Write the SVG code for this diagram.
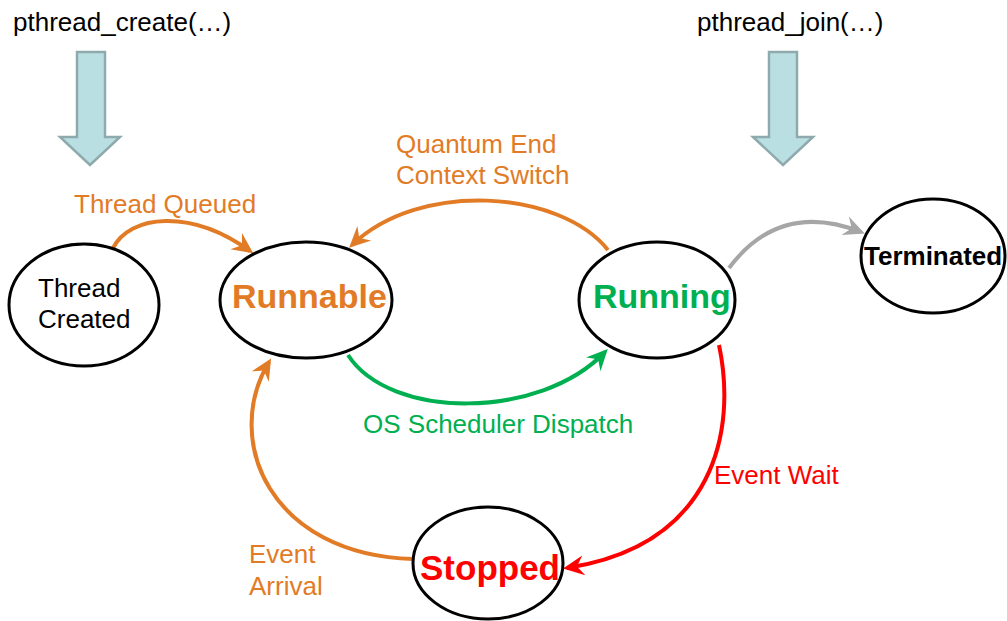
<svg xmlns="http://www.w3.org/2000/svg" width="1007" height="621" viewBox="0 0 1007 621">
<style>
text{font-family:"Liberation Sans",Arial,sans-serif}
.node{fill:#fff;stroke:#000;stroke-width:3}
.blk{fill:#B9DFE3;stroke:#8FAAAC;stroke-width:2.5}
.lbl{font-size:26px}
.c{fill:none;stroke-width:4}
.big{font-size:34px;font-weight:bold}
</style>
<defs>
<marker id="aO" markerUnits="userSpaceOnUse" viewBox="-25 -15 30 30" markerWidth="30" markerHeight="30" refX="0" refY="0" orient="auto"><path d="M4,0 L-17,-10 L-10,0 L-17,10 Z" fill="#E27B26"/></marker>
<marker id="aG" markerUnits="userSpaceOnUse" viewBox="-25 -15 30 30" markerWidth="30" markerHeight="30" refX="0" refY="0" orient="auto"><path d="M4,0 L-17,-10 L-10,0 L-17,10 Z" fill="#00B050"/></marker>
<marker id="aR" markerUnits="userSpaceOnUse" viewBox="-25 -15 30 30" markerWidth="30" markerHeight="30" refX="0" refY="0" orient="auto"><path d="M4,0 L-17,-10 L-10,0 L-17,10 Z" fill="#FF0000"/></marker>
<marker id="aY" markerUnits="userSpaceOnUse" viewBox="-25 -15 30 30" markerWidth="30" markerHeight="30" refX="0" refY="0" orient="auto"><path d="M4,0 L-17,-10 L-10,0 L-17,10 Z" fill="#A6A6A6"/></marker>
</defs>

<g id="call-create">
<text x="13" y="31" font-size="26" fill="#000">pthread_create(…)</text>
<polygon class="blk" points="77,52 105,52 105,137 120,137 90,165 60,137 77,137"/>
</g>
<g id="call-join">
<text x="697" y="31" font-size="26" fill="#000">pthread_join(…)</text>
<polygon class="blk" points="769,52 797,52 797,137 813,137 783,165 753,137 769,137"/>
</g>

<g id="connectors">
<path class="c" stroke="#E27B26" d="M113,248 C130,215 190,208 250,251" marker-end="url(#aO)"/>
<path class="c" stroke="#E27B26" d="M608,250 C560,190 420,180 352,245" marker-end="url(#aO)"/>
<path class="c" stroke="#00B050" d="M348,355 C390,420 540,420 605,352" marker-end="url(#aG)"/>
<path class="c" stroke="#FF0000" d="M719,345 C737,430 715,545 567,568" marker-end="url(#aR)"/>
<path class="c" stroke="#E27B26" d="M413,559 C270,555 222,440 269,362" marker-end="url(#aO)"/>
<path class="c" stroke="#A6A6A6" d="M729,268 C765,220 810,212 861,232" marker-end="url(#aY)"/>
<text class="lbl" x="74" y="213" fill="#E27B26">Thread Queued</text>
<text class="lbl" x="396" y="153" fill="#E27B26">Quantum End</text>
<text class="lbl" x="396" y="184" fill="#E27B26">Context Switch</text>
<text class="lbl" x="363" y="433" fill="#00B050">OS Scheduler Dispatch</text>
<text class="lbl" x="714" y="484" fill="#FF0000">Event Wait</text>
<text class="lbl" x="249" y="563" fill="#E27B26">Event</text>
<text class="lbl" x="249" y="595" fill="#E27B26">Arrival</text>
</g>

<g id="thread-created">
<ellipse class="node" cx="84" cy="305" rx="75" ry="61"/>
<text class="lbl" x="38" y="297" fill="#000">Thread</text>
<text class="lbl" x="38" y="328" fill="#000">Created</text>
</g>
<g id="runnable">
<ellipse class="node" cx="306" cy="300" rx="86" ry="58"/>
<text class="big" x="232" y="308" fill="#E27B26">Runnable</text>
</g>
<g id="running">
<ellipse class="node" cx="657" cy="300" rx="78" ry="58"/>
<text class="big" x="593" y="308" fill="#00B050">Running</text>
</g>
<g id="terminated">
<ellipse class="node" cx="933" cy="256" rx="72" ry="57"/>
<text x="864" y="265" font-size="26" font-weight="bold" fill="#000">Terminated</text>
</g>
<g id="stopped">
<ellipse class="node" cx="488" cy="563" rx="75" ry="56"/>
<text class="big" x="420" y="580" font-size="35" style="font-size:35px" fill="#FF0000">Stopped</text>
</g>
</svg>
